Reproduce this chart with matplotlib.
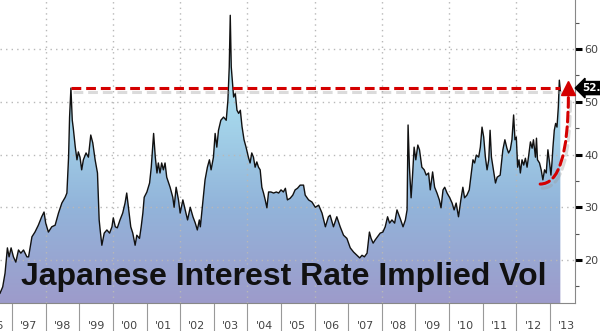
import numpy as np
import matplotlib
matplotlib.use("Agg")
import matplotlib.pyplot as plt
from matplotlib.colors import LinearSegmentedColormap
from matplotlib.patches import Polygon
import matplotlib.patheffects as pe

# ---- data ----
dates = [1996.64, 1996.72, 1996.79, 1996.86, 1996.91, 1996.97, 1997.04, 1997.11, 1997.19, 1997.26,
         1997.34, 1997.44, 1997.49, 1997.59, 1997.68, 1997.78, 1997.88, 1997.95, 1998.00, 1998.08,
         1998.18, 1998.28, 1998.38, 1998.48, 1998.58, 1998.63, 1998.68, 1998.71, 1998.75, 1998.79,
         1998.82, 1998.88, 1998.93, 1998.97, 1999.02, 1999.07, 1999.12, 1999.20, 1999.27, 1999.34,
         1999.40, 1999.47, 1999.54, 1999.59, 1999.62, 1999.67, 1999.74, 1999.82, 1999.90, 1999.97,
         2000.01, 2000.07, 2000.13, 2000.21, 2000.29, 2000.36, 2000.41, 2000.46, 2000.53, 2000.59,
         2000.66, 2000.71, 2000.79, 2000.84, 2000.89, 2000.93, 2001.01, 2001.09, 2001.14, 2001.21,
         2001.26, 2001.31, 2001.35, 2001.40, 2001.45, 2001.50, 2001.55, 2001.60, 2001.70, 2001.78,
         2001.82, 2001.88, 2001.95, 2002.00, 2002.08, 2002.15, 2002.22, 2002.30, 2002.38, 2002.45,
         2002.51, 2002.57, 2002.60, 2002.68, 2002.74, 2002.81, 2002.87, 2002.92, 2002.99, 2003.04,
         2003.09, 2003.14, 2003.21, 2003.29, 2003.37, 2003.42, 2003.46, 2003.49, 2003.52, 2003.56,
         2003.59, 2003.64, 2003.69, 2003.74, 2003.79, 2003.84, 2003.90, 2003.96, 2004.03, 2004.08,
         2004.13, 2004.18, 2004.23, 2004.28, 2004.33, 2004.38, 2004.43, 2004.48, 2004.53, 2004.58,
         2004.63, 2004.70, 2004.78, 2004.86, 2004.93, 2005.00, 2005.07, 2005.13, 2005.19, 2005.27,
         2005.35, 2005.42, 2005.49, 2005.57, 2005.67, 2005.72, 2005.82, 2005.92, 2006.02, 2006.12,
         2006.22, 2006.32, 2006.41, 2006.46, 2006.56, 2006.66, 2006.76, 2006.86, 2006.96, 2007.06,
         2007.16, 2007.26, 2007.34, 2007.41, 2007.48, 2007.56, 2007.63, 2007.68, 2007.74, 2007.80,
         2007.87, 2007.95, 2008.03, 2008.10, 2008.17, 2008.23, 2008.30, 2008.38, 2008.45, 2008.55,
         2008.63, 2008.70, 2008.75, 2008.78, 2008.82, 2008.87, 2008.91, 2008.96, 2009.01, 2009.07,
         2009.12, 2009.19, 2009.26, 2009.32, 2009.39, 2009.44, 2009.51, 2009.57, 2009.64, 2009.71,
         2009.76, 2009.82, 2009.87, 2009.94, 2010.02, 2010.09, 2010.15, 2010.21, 2010.28, 2010.35,
         2010.41, 2010.46, 2010.53, 2010.60, 2010.66, 2010.71, 2010.76, 2010.81, 2010.88, 2010.93,
         2010.98, 2011.03, 2011.08, 2011.13, 2011.18, 2011.22, 2011.26, 2011.32, 2011.38, 2011.43,
         2011.52, 2011.60, 2011.66, 2011.72, 2011.77, 2011.82, 2011.87, 2011.92, 2011.96, 2012.00,
         2012.04, 2012.08, 2012.12, 2012.17, 2012.22, 2012.27, 2012.32, 2012.37, 2012.42, 2012.47,
         2012.51, 2012.57, 2012.60, 2012.63, 2012.69, 2012.74, 2012.79, 2012.84, 2012.89, 2012.94,
         2012.99, 2013.03, 2013.06, 2013.09, 2013.13, 2013.17, 2013.21, 2013.25, 2013.28, 2013.31]

vol = [13.7, 14.9, 17.5, 22.3, 20.6, 22.3, 20.6, 19.6, 21.9, 21.3,
       21.9, 20.6, 20.6, 24.4, 25.3, 26.6, 28.2, 29.1, 27.0, 25.3,
       26.3, 26.6, 28.9, 30.8, 31.9, 32.7, 39.5, 47.1, 52.6, 46.5,
       45.0, 41.4, 39.0, 40.5, 39.5, 37.1, 39.0, 40.3, 39.5, 43.7,
       42.2, 39.0, 36.5, 27.6, 25.7, 22.8, 25.1, 25.7, 25.1, 26.3,
       28.0, 26.3, 26.1, 27.6, 28.9, 30.8, 32.7, 30.0, 26.3, 25.1,
       22.8, 24.7, 24.1, 26.3, 28.9, 31.9, 32.9, 34.6, 37.6, 44.0,
       39.5, 36.5, 38.4, 36.5, 38.4, 37.1, 38.4, 35.7, 33.8, 31.9,
       30.0, 33.8, 31.4, 28.9, 31.4, 29.5, 27.6, 30.0, 28.2, 27.0,
       25.7, 27.6, 26.3, 31.4, 35.2, 37.6, 39.0, 37.1, 39.5, 44.0,
       41.4, 44.6, 46.5, 47.1, 46.5, 50.3, 56.6, 66.4, 56.6, 53.2,
       50.9, 51.6, 48.4, 47.8, 48.4, 45.3, 42.8, 41.4, 39.5, 38.4,
       40.3, 39.5, 37.6, 38.6, 37.6, 37.1, 33.8, 32.7, 31.4, 29.9,
       32.9, 32.9, 32.7, 32.9, 32.7, 33.3, 32.9, 33.6, 31.4, 31.7,
       32.3, 33.3, 33.6, 34.2, 34.2, 32.3, 31.4, 31.0, 30.0, 30.4,
       28.9, 26.3, 28.2, 28.5, 26.3, 28.2, 26.3, 24.7, 24.1, 22.3,
       21.5, 20.9, 20.4, 20.9, 20.6, 21.3, 25.3, 24.1, 23.2, 23.8,
       24.4, 25.1, 25.3, 26.3, 28.2, 27.0, 27.6, 27.0, 29.5, 27.8,
       26.3, 27.6, 29.5, 45.6, 37.6, 31.8, 35.7, 41.4, 39.0, 41.8,
       40.9, 37.6, 37.1, 36.1, 36.5, 33.3, 36.7, 33.8, 32.7, 31.4,
       29.9, 33.3, 33.8, 32.7, 31.8, 30.8, 29.5, 30.8, 28.2, 31.4,
       33.8, 31.8, 32.3, 33.3, 36.5, 39.0, 38.4, 39.9, 39.5, 41.4,
       45.2, 43.3, 39.5, 37.1, 39.0, 44.6, 39.5, 37.1, 34.6, 35.7,
       36.1, 40.9, 42.8, 41.2, 40.3, 40.9, 42.8, 47.5, 42.8, 43.3,
       37.6, 39.0, 36.5, 39.0, 38.0, 39.3, 37.6, 39.9, 42.4, 41.2,
       42.8, 39.5, 43.1, 39.0, 38.4, 37.1, 35.2, 37.1, 36.5, 40.9,
       38.4, 36.1, 38.4, 41.4, 44.6, 45.9, 45.2, 49.0, 54.1, 52.1]

year_ticks = list(range(1997, 2014))
year_labels = ["'%02d" % (y % 100) for y in range(1996, 2014)]
y_ticks = [20, 30, 40, 50, 60]
title = "Japanese Interest Rate Implied Vol"
last_label = "52.1"

dates = np.array(dates)
vol = np.array(vol)

# ---- figure ----
fig = plt.figure(figsize=(6.0, 3.31), dpi=100)
ax = fig.add_axes([0.0, 0.0846, 0.958, 0.9154])
x0, x1 = 1996.64, 2013.74
y0, y1 = 11.85, 69.3
ax.set_xlim(x0, x1)
ax.set_ylim(y0, y1)

# gradient fill under curve
cmap = LinearSegmentedColormap.from_list("g", ["#9d9bcb", "#92b4da", "#a6d8ec", "#b8e8f4"])
grad = np.linspace(0, 1, 256).reshape(-1, 1)
im = ax.imshow(grad, aspect="auto", cmap=cmap, origin="lower",
               extent=[dates[0], dates[-1], y0, 66.5], zorder=1)
verts = [(dates[0], y0)] + list(zip(dates, vol)) + [(dates[-1], y0)]
poly = Polygon(verts, closed=True, facecolor="none", edgecolor="none")
ax.add_patch(poly)
im.set_clip_path(poly)

ax.plot(dates, vol, color="#111111", lw=1.0, zorder=3)

# grids
for yv in y_ticks:
    ax.axhline(yv, color="#b8b8b8", lw=1.0, ls=(0, (1, 3)), zorder=2)
for xv in range(1998, 2013, 2):
    ax.axvline(xv, color="#b8b8b8", lw=1.0, ls=(0, (1, 3)), zorder=2)

# spines
for s in ["top", "left"]:
    ax.spines[s].set_visible(False)
ax.spines["right"].set_color("#888888")
ax.spines["bottom"].set_color("#888888")

# y axis on right
ax.yaxis.tick_right()
ax.set_yticks(y_ticks)
ax.set_yticks([15, 25, 35, 45, 55, 65], minor=True)
ax.tick_params(axis="y", which="major", length=5, width=2.2, color="black",
               labelsize=8, labelcolor="#444444", pad=2)
ax.tick_params(axis="y", which="minor", length=3, width=0.8, color="#555555")

# x axis: separator ticks at year starts, labels at mid-year
ax.set_xticks(year_ticks)
ax.set_xticklabels([])
ax.tick_params(axis="x", which="major", length=22, width=0.8, color="#999999")
mids = [y + 0.5 for y in range(1996, 2014)]
for m, lab in zip(mids, year_labels):
    ax.text(m, -0.075, lab, transform=ax.get_xaxis_transform(), ha="center", va="center",
            fontsize=8, color="#444444", clip_on=False)

# red dashed reference line at 1998 peak
peak98_idx = int(np.argmax(np.where(dates < 1999, vol, -1)))
level = vol[peak98_idx]
shadow = [pe.SimpleLineShadow(offset=(1.5, -3), shadow_color="#999999", alpha=0.35), pe.Normal()]
ax.plot([dates[peak98_idx], dates[-1]], [level, level], color="#d40000", lw=2.2,
        dashes=(3.2, 1.6), zorder=5, path_effects=shadow)

# curved red dashed arrow
start = (2012.71, vol[-1] - 17.7)
tip = (2013.55, level)
ax.annotate("", xy=(tip[0], tip[1] - 1.2), xytext=start,
            arrowprops=dict(arrowstyle="-", color="#d40000", lw=2.2, ls=(0, (3.2, 1.6)),
                            connectionstyle="angle3,angleA=0,angleB=90",
                            path_effects=shadow, shrinkA=0, shrinkB=0),
            zorder=5)
ax.plot([tip[0]], [tip[1]], marker="^", color="#d40000", markersize=10, zorder=6,
        clip_on=False)

# last value tag
ax.text(x1 + 0.22, level, last_label, transform=ax.transData, ha="left", va="center",
        fontsize=7.5, color="white", fontweight="bold", clip_on=False,
        bbox=dict(boxstyle="larrow,pad=0.15", fc="black", ec="black"))

# title text
ax.text(0.494, 0.085, title, transform=ax.transAxes, ha="center", va="center",
        fontsize=23, fontweight="bold", color="#111111",
        fontfamily=["Liberation Sans", "DejaVu Sans"], zorder=7)

fig.savefig("out.png", dpi=100)
